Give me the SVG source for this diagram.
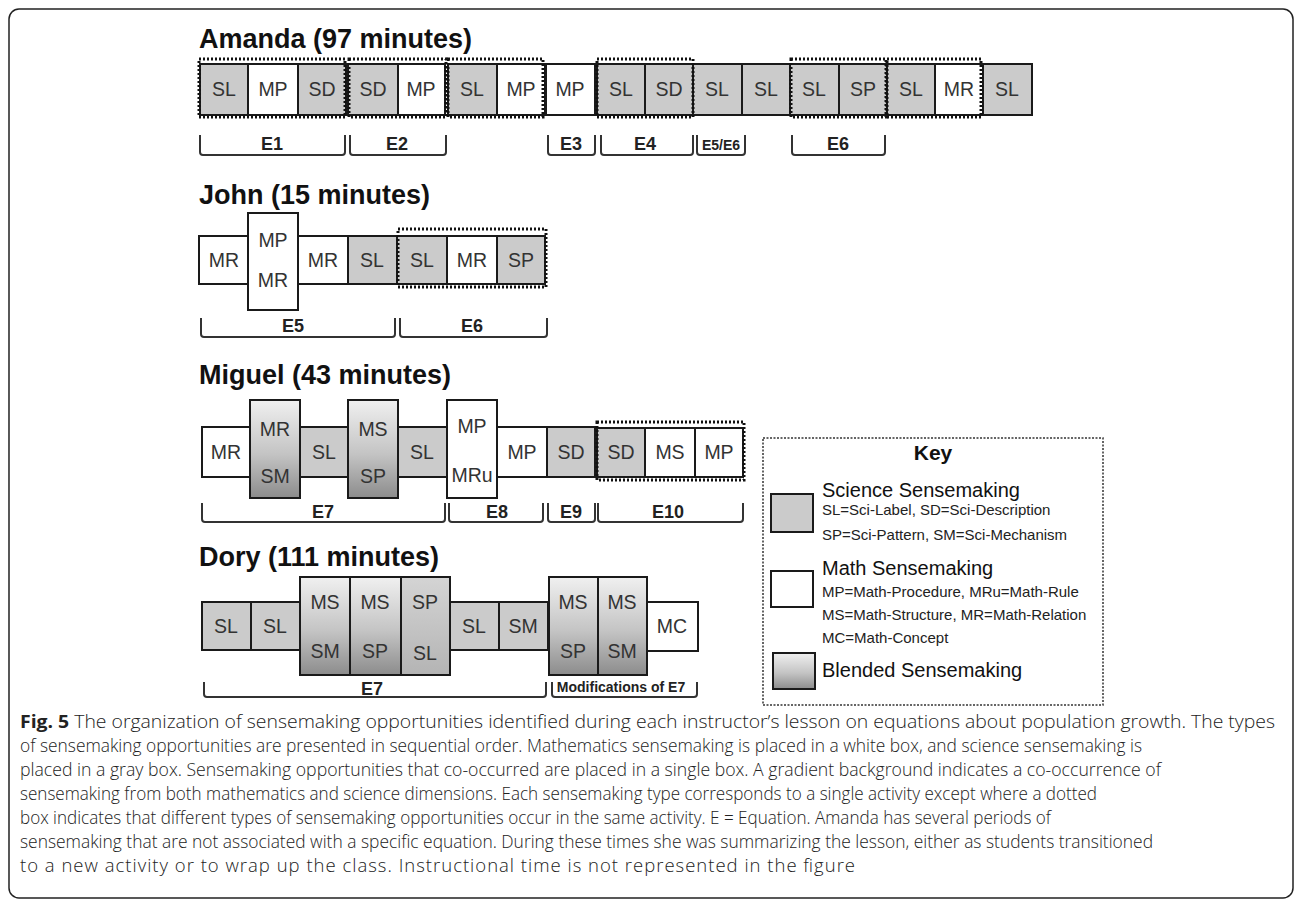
<svg xmlns="http://www.w3.org/2000/svg" width="1296" height="904" viewBox="0 0 1296 904">
<defs>
<linearGradient id="blend" x1="0" y1="0" x2="0" y2="1">
<stop offset="0" stop-color="#f0f0f0"/>
<stop offset="0.55" stop-color="#c4c4c4"/>
<stop offset="1" stop-color="#8c8c8c"/>
</linearGradient>
<linearGradient id="grayblend" x1="0" y1="0" x2="0" y2="1">
<stop offset="0" stop-color="#d4d4d4"/>
<stop offset="1" stop-color="#b4b4b4"/>
</linearGradient>
<style>
.bx{stroke:#1a1a1a;stroke-width:2}
.g{fill:#cbcbcb}
.w{fill:#ffffff}
.bl{fill:url(#blend)}
.gb{fill:url(#grayblend)}
.lbl{font-family:"Liberation Sans",Arial,sans-serif;font-size:19.5px;fill:#333;text-anchor:middle}
.dot{fill:none;stroke:#111;stroke-width:3;stroke-dasharray:2 2}
.br{fill:none;stroke:#333;stroke-width:2;stroke-linejoin:round}
.eq{font-family:"Liberation Sans",Arial,sans-serif;font-weight:bold;font-size:18px;text-anchor:middle;fill:#222}
.ttl{font-family:"Liberation Sans",Arial,sans-serif;font-weight:bold;font-size:27px;fill:#111}
.kh{font-family:"Liberation Sans",Arial,sans-serif;font-size:20px;fill:#111}
.ks{font-family:"Liberation Sans",Arial,sans-serif;font-size:15px;fill:#222}
.cap{font-family:"Open Sans","Noto Sans",sans-serif;font-size:18.5px;font-weight:300;fill:#222}
</style>
</defs>
<rect x="9" y="9" width="1284" height="889" rx="10" fill="#fff" stroke="#222" stroke-width="1.5"/>

<!-- Amanda -->
<text class="ttl" x="199" y="48">Amanda (97 minutes)</text>
<g id="amanda-1"><rect class="bx g" x="200" y="64" width="48" height="51"/><text class="lbl" x="224" y="96">SL</text></g>
<g id="amanda-2"><rect class="bx w" x="248" y="64" width="50" height="51"/><text class="lbl" x="273" y="96">MP</text></g>
<g id="amanda-3"><rect class="bx g" x="298" y="64" width="48" height="51"/><text class="lbl" x="322" y="96">SD</text></g>
<g id="amanda-4"><rect class="bx g" x="348" y="64" width="50" height="51"/><text class="lbl" x="373" y="96">SD</text></g>
<g id="amanda-5"><rect class="bx w" x="398" y="64" width="47" height="51"/><text class="lbl" x="421" y="96">MP</text></g>
<g id="amanda-6"><rect class="bx g" x="448" y="64" width="49" height="51"/><text class="lbl" x="472" y="96">SL</text></g>
<g id="amanda-7"><rect class="bx w" x="497" y="64" width="48" height="51"/><text class="lbl" x="521" y="96">MP</text></g>
<g id="amanda-8"><rect class="bx w" x="546" y="64" width="49" height="51"/><text class="lbl" x="570" y="96">MP</text></g>
<g id="amanda-9"><rect class="bx g" x="597" y="64" width="48" height="51"/><text class="lbl" x="621" y="96">SL</text></g>
<g id="amanda-10"><rect class="bx g" x="645" y="64" width="48" height="51"/><text class="lbl" x="669" y="96">SD</text></g>
<g id="amanda-11"><rect class="bx g" x="693" y="64" width="49" height="51"/><text class="lbl" x="717" y="96">SL</text></g>
<g id="amanda-12"><rect class="bx g" x="742" y="64" width="48" height="51"/><text class="lbl" x="766" y="96">SL</text></g>
<g id="amanda-13"><rect class="bx g" x="790" y="64" width="49" height="51"/><text class="lbl" x="814" y="96">SL</text></g>
<g id="amanda-14"><rect class="bx g" x="839" y="64" width="48" height="51"/><text class="lbl" x="863" y="96">SP</text></g>
<g id="amanda-15"><rect class="bx g" x="887" y="64" width="48" height="51"/><text class="lbl" x="911" y="96">SL</text></g>
<g id="amanda-16"><rect class="bx w" x="935" y="64" width="48" height="51"/><text class="lbl" x="959" y="96">MR</text></g>
<g id="amanda-17"><rect class="bx g" x="983" y="64" width="49" height="51"/><text class="lbl" x="1007" y="96">SL</text></g>
<g id="amanda-activities">
<rect class="dot" x="199" y="59" width="146" height="58"/>
<rect class="dot" x="349" y="59" width="97" height="58"/>
<rect class="dot" x="448" y="59" width="95" height="58"/>
<rect class="dot" x="597" y="59" width="96" height="58"/>
<rect class="dot" x="791" y="59" width="95" height="58"/>
<rect class="dot" x="887" y="59" width="94" height="58"/>
</g>

<!-- John -->
<text class="ttl" x="199" y="204">John (15 minutes)</text>
<g id="john-1"><rect class="bx w" x="199" y="236" width="49" height="48"/><text class="lbl" x="224" y="267">MR</text></g>
<g id="john-2"><rect class="bx w" x="248" y="213" width="50" height="97"/><text class="lbl" x="273" y="247">MP</text><text class="lbl" x="273" y="287">MR</text></g>
<g id="john-3"><rect class="bx w" x="298" y="236" width="50" height="48"/><text class="lbl" x="323" y="267">MR</text></g>
<g id="john-4"><rect class="bx g" x="348" y="236" width="49" height="48"/><text class="lbl" x="372" y="267">SL</text></g>
<g id="john-5"><rect class="bx g" x="397" y="236" width="50" height="48"/><text class="lbl" x="422" y="267">SL</text></g>
<g id="john-6"><rect class="bx w" x="447" y="236" width="50" height="48"/><text class="lbl" x="472" y="267">MR</text></g>
<g id="john-7"><rect class="bx g" x="497" y="236" width="48" height="48"/><text class="lbl" x="521" y="267">SP</text></g>
<g id="john-activities"><rect class="dot" x="398" y="229" width="148" height="58"/></g>

<!-- Miguel -->
<text class="ttl" x="199" y="384">Miguel (43 minutes)</text>
<g id="miguel-1"><rect class="bx w" x="202" y="427" width="48" height="50"/><text class="lbl" x="226" y="459">MR</text></g>
<g id="miguel-2"><rect class="bx bl" x="250" y="400" width="50" height="98"/><text class="lbl" x="275" y="436">MR</text><text class="lbl" x="275" y="483">SM</text></g>
<g id="miguel-3"><rect class="bx g" x="300" y="427" width="48" height="50"/><text class="lbl" x="324" y="459">SL</text></g>
<g id="miguel-4"><rect class="bx bl" x="348" y="400" width="50" height="98"/><text class="lbl" x="373" y="436">MS</text><text class="lbl" x="373" y="483">SP</text></g>
<g id="miguel-5"><rect class="bx g" x="398" y="427" width="49" height="50"/><text class="lbl" x="422" y="459">SL</text></g>
<g id="miguel-6"><rect class="bx w" x="447" y="400" width="50" height="98"/><text class="lbl" x="472" y="433">MP</text><text class="lbl" x="472" y="482">MRu</text></g>
<g id="miguel-7"><rect class="bx w" x="497" y="427" width="50" height="50"/><text class="lbl" x="522" y="459">MP</text></g>
<g id="miguel-8"><rect class="bx g" x="547" y="427" width="48" height="50"/><text class="lbl" x="571" y="459">SD</text></g>
<g id="miguel-9"><rect class="bx g" x="597" y="428" width="48" height="49"/><text class="lbl" x="621" y="459">SD</text></g>
<g id="miguel-10"><rect class="bx w" x="645" y="428" width="50" height="49"/><text class="lbl" x="670" y="459">MS</text></g>
<g id="miguel-11"><rect class="bx w" x="695" y="428" width="48" height="49"/><text class="lbl" x="719" y="459">MP</text></g>
<g id="miguel-activities"><rect class="dot" x="597" y="422" width="147" height="58"/></g>

<!-- Dory -->
<text class="ttl" x="199" y="566">Dory (111 minutes)</text>
<g id="dory-1"><rect class="bx g" x="202" y="602" width="49" height="48"/><text class="lbl" x="226" y="633">SL</text></g>
<g id="dory-2"><rect class="bx g" x="251" y="602" width="49" height="48"/><text class="lbl" x="275" y="633">SL</text></g>
<g id="dory-3"><rect class="bx bl" x="300" y="577" width="50" height="98"/><text class="lbl" x="325" y="609">MS</text><text class="lbl" x="325" y="658">SM</text></g>
<g id="dory-4"><rect class="bx bl" x="350" y="577" width="51" height="98"/><text class="lbl" x="375" y="609">MS</text><text class="lbl" x="375" y="658">SP</text></g>
<g id="dory-5"><rect class="bx gb" x="401" y="577" width="49" height="98"/><text class="lbl" x="425" y="609">SP</text><text class="lbl" x="425" y="660">SL</text></g>
<g id="dory-6"><rect class="bx g" x="450" y="602" width="49" height="48"/><text class="lbl" x="474" y="633">SL</text></g>
<g id="dory-7"><rect class="bx g" x="499" y="602" width="49" height="48"/><text class="lbl" x="523" y="633">SM</text></g>
<g id="dory-8"><rect class="bx bl" x="549" y="577" width="49" height="98"/><text class="lbl" x="573" y="609">MS</text><text class="lbl" x="573" y="658">SP</text></g>
<g id="dory-9"><rect class="bx bl" x="598" y="577" width="49" height="98"/><text class="lbl" x="622" y="609">MS</text><text class="lbl" x="622" y="658">SM</text></g>
<g id="dory-10"><rect class="bx w" x="647" y="602" width="51" height="49"/><text class="lbl" x="672" y="633">MC</text></g>

<!-- Equation brackets -->
<g id="connectors">
<path class="br" d="M200,135 V152 Q200,155 203,155 H342 Q345,155 345,152 V135"/>
<path class="br" d="M350,135 V152 Q350,155 353,155 H443 Q446,155 446,152 V135"/>
<path class="br" d="M548,135 V152 Q548,155 551,155 H592 Q595,155 595,152 V135"/>
<path class="br" d="M601,135 V152 Q601,155 604,155 H690 Q693,155 693,152 V135"/>
<path class="br" d="M697,135 V152 Q697,155 700,155 H742 Q745,155 745,152 V135"/>
<path class="br" d="M792,135 V152 Q792,155 795,155 H882 Q885,155 885,152 V135"/>
<path class="br" d="M201,318 V334 Q201,337 204,337 H392 Q395,337 395,334 V318"/>
<path class="br" d="M400,318 V334 Q400,337 403,337 H544 Q547,337 547,334 V318"/>
<path class="br" d="M202,503 V519 Q202,522 205,522 H442 Q445,522 445,519 V503"/>
<path class="br" d="M449,503 V519 Q449,522 452,522 H540 Q543,522 543,519 V503"/>
<path class="br" d="M548,503 V519 Q548,522 551,522 H592 Q595,522 595,519 V503"/>
<path class="br" d="M598,503 V519 Q598,522 601,522 H740 Q743,522 743,519 V503"/>
<path class="br" d="M204,682 V694 Q204,697 207,697 H543 Q546,697 546,694 V682"/>
<path class="br" d="M552,682 V694 Q552,697 555,697 H694 Q697,697 697,694 V682"/>
</g>
<g id="equation-labels">
<text class="eq" x="272" y="150">E1</text>
<text class="eq" x="397" y="150">E2</text>
<text class="eq" x="571" y="150">E3</text>
<text class="eq" x="645" y="150">E4</text>
<text class="eq" x="721" y="150" style="font-size:14px">E5/E6</text>
<text class="eq" x="838" y="150">E6</text>
<text class="eq" x="293" y="332">E5</text>
<text class="eq" x="472" y="332">E6</text>
<text class="eq" x="323" y="518">E7</text>
<text class="eq" x="497" y="518">E8</text>
<text class="eq" x="571" y="518">E9</text>
<text class="eq" x="668" y="518">E10</text>
<text class="eq" x="372" y="695">E7</text>
<text class="eq" x="621" y="692" style="font-size:14px">Modifications of E7</text>
</g>

<!-- Key -->
<g id="key">
<rect x="763" y="438" width="340" height="267" fill="#fff" stroke="#333" stroke-width="1.5" stroke-dasharray="2 1.5"/>
<text x="933" y="460" text-anchor="middle" style="font-family:'Liberation Sans',Arial,sans-serif;font-weight:bold;font-size:21px;fill:#111">Key</text>
<rect class="bx g" x="771" y="494" width="42" height="38"/>
<text class="kh" x="822" y="497">Science Sensemaking</text>
<text class="ks" x="822" y="515">SL=Sci-Label, SD=Sci-Description</text>
<text class="ks" x="822" y="540">SP=Sci-Pattern, SM=Sci-Mechanism</text>
<rect class="bx w" x="771" y="571" width="42" height="36"/>
<text class="kh" x="822" y="575">Math Sensemaking</text>
<text class="ks" x="822" y="597">MP=Math-Procedure, MRu=Math-Rule</text>
<text class="ks" x="822" y="620">MS=Math-Structure, MR=Math-Relation</text>
<text class="ks" x="822" y="643">MC=Math-Concept</text>
<rect class="bx bl" x="773" y="653" width="42" height="36"/>
<text class="kh" x="822" y="677">Blended Sensemaking</text>
</g>

<!-- Caption -->
<g id="caption">
<text class="cap" x="20" y="728" textLength="1255" lengthAdjust="spacingAndGlyphs"><tspan font-weight="bold">Fig. 5</tspan> The organization of sensemaking opportunities identified during each instructor’s lesson on equations about population growth. The types</text>
<text class="cap" x="20" y="752" textLength="1122" lengthAdjust="spacingAndGlyphs">of sensemaking opportunities are presented in sequential order. Mathematics sensemaking is placed in a white box, and science sensemaking is</text>
<text class="cap" x="20" y="776" textLength="1141" lengthAdjust="spacingAndGlyphs">placed in a gray box. Sensemaking opportunities that co-occurred are placed in a single box. A gradient background indicates a co-occurrence of</text>
<text class="cap" x="20" y="800" textLength="1077" lengthAdjust="spacingAndGlyphs">sensemaking from both mathematics and science dimensions. Each sensemaking type corresponds to a single activity except where a dotted</text>
<text class="cap" x="20" y="824" textLength="1031" lengthAdjust="spacingAndGlyphs">box indicates that different types of sensemaking opportunities occur in the same activity. E = Equation. Amanda has several periods of</text>
<text class="cap" x="20" y="848" textLength="1133" lengthAdjust="spacingAndGlyphs">sensemaking that are not associated with a specific equation. During these times she was summarizing the lesson, either as students transitioned</text>
<text class="cap" x="20" y="872" textLength="835" lengthAdjust="spacing">to a new activity or to wrap up the class. Instructional time is not represented in the figure</text>
</g>
</svg>
